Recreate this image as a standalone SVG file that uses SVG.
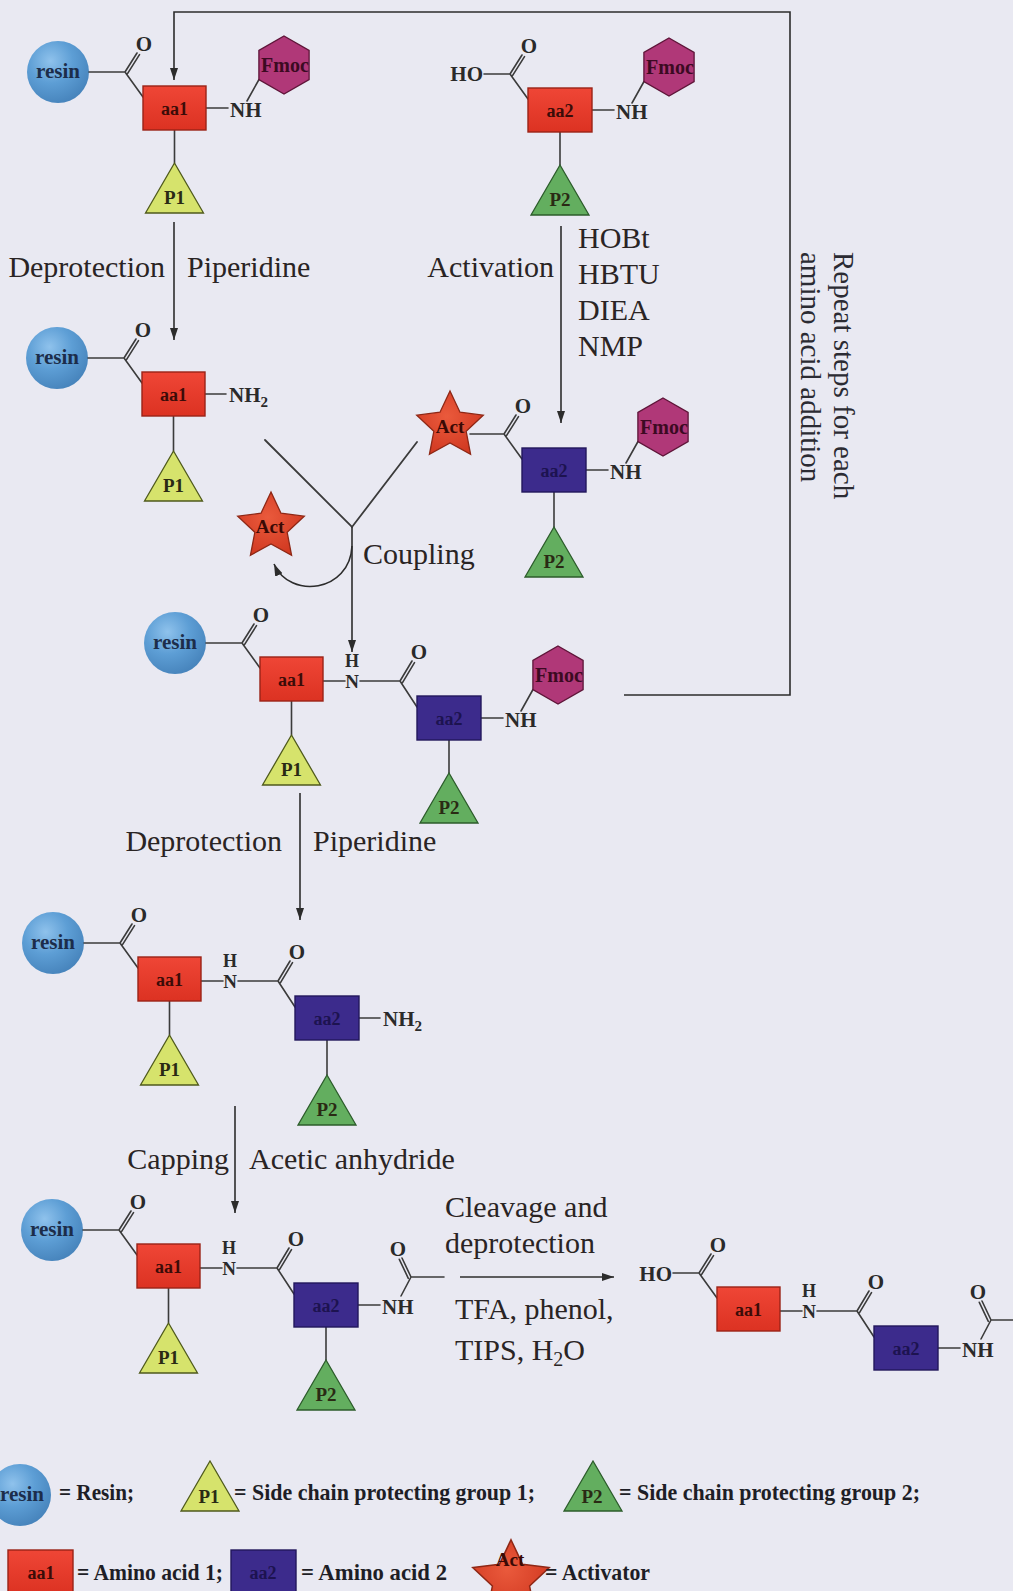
<svg xmlns="http://www.w3.org/2000/svg" width="1013" height="1591" viewBox="0 0 1013 1591">
<defs>
<style>
.b{stroke:#3b3b3b;stroke-width:1.6;fill:none;stroke-linecap:round}
.ar{stroke:#2c2c2c;stroke-width:1.6;fill:none;marker-end:url(#ah)}
.ch{font-family:"Liberation Serif",serif;font-weight:bold;font-size:21px;fill:#2a2a2a}
.hh{font-family:"Liberation Serif",serif;font-weight:bold;font-size:18px;fill:#2a2a2a;text-anchor:middle}
.hn{font-family:"Liberation Serif",serif;font-weight:bold;font-size:19px;fill:#2a2a2a;text-anchor:middle}
.bx{font-family:"Liberation Serif",serif;font-weight:bold;font-size:18px;text-anchor:middle;fill:#3b0c08}
.bp{font-family:"Liberation Serif",serif;font-weight:bold;font-size:18px;text-anchor:middle;fill:#1d1350}
.pt{font-family:"Liberation Serif",serif;font-weight:bold;font-size:19px;text-anchor:middle;fill:#2a2a14}
.fmt{font-family:"Liberation Serif",serif;font-weight:bold;font-size:20px;text-anchor:middle;fill:#3c0a22}
.act{font-family:"Liberation Serif",serif;font-weight:bold;font-size:19px;text-anchor:middle;fill:#3a0a05}
.rs{font-family:"Liberation Serif",serif;font-weight:bold;font-size:21px;fill:#1c2d4a;text-anchor:middle}
.lb{font-family:"Liberation Serif",serif;font-size:30px;fill:#2a2424}
.rp{font-family:"Liberation Serif",serif;font-size:29px;fill:#2b2b33}
.lg{font-family:"Liberation Serif",serif;font-weight:bold;font-size:23px;fill:#1e1e26}
.red{fill:url(#gRed);stroke:#9a2318;stroke-width:1.4}
.pur{fill:#3c2b8c;stroke:#22175c;stroke-width:1.4}
.p1{fill:#d6e36c;stroke:#4f5a1c;stroke-width:1.3}
.p2{fill:#63ae5f;stroke:#2c5c2b;stroke-width:1.3}
.fm{fill:#b03878;stroke:#5e1438;stroke-width:1.3}
.st{fill:url(#gStar);stroke:#8e2715;stroke-width:1.3}
</style>
<radialGradient id="gRes" cx="0.38" cy="0.32" r="0.72">
<stop offset="0" stop-color="#8fc2ec"/>
<stop offset="0.5" stop-color="#5d9ed5"/>
<stop offset="1" stop-color="#4683bb"/>
</radialGradient>
<linearGradient id="gRed" x1="0" y1="0" x2="0" y2="1">
<stop offset="0" stop-color="#ef4636"/>
<stop offset="1" stop-color="#dc3222"/>
</linearGradient>
<radialGradient id="gStar" cx="0.45" cy="0.4" r="0.6">
<stop offset="0" stop-color="#ea5a3c"/>
<stop offset="1" stop-color="#d23a22"/>
</radialGradient>
<marker id="ah" viewBox="0 0 12 8" refX="12" refY="4" markerWidth="12" markerHeight="8" orient="auto" markerUnits="userSpaceOnUse">
<path d="M0,0 L12,4 L0,8 z" fill="#2c2c2c"/>
</marker>
<polygon id="hex" points="0,-29 25.1,-14.5 25.1,14.5 0,29 -25.1,14.5 -25.1,-14.5"/>
<path id="star" d="M0,-35 L9.99,-13.75 L33.29,-10.82 L16.17,5.25 L20.57,28.32 L0,17 L-20.57,28.32 L-16.17,5.25 L-33.29,-10.82 L-9.99,-13.75 Z"/>
<path id="tri" d="M0,0 L29,50 L-29,50 Z"/>
</defs>
<rect x="0" y="0" width="1013" height="1591" fill="#e9e9f2"/>

<!-- connectors -->
<g id="connectors">
<path class="b" style="stroke-width:1.8" d="M265,440L352,527L417,442"/>
<path class="ar" d="M352,527V652"/>
<path class="ar" d="M352,546C350,592 290,600 274,564"/>
<path class="ar" d="M174,222V340"/>
<path class="ar" d="M561,226V423"/>
<path class="ar" d="M300,793V920"/>
<path class="ar" d="M235,1106V1213"/>
<path class="ar" d="M460,1277H614"/>
<path class="ar" d="M624,695H790V12H174V80"/>
</g>

<!-- S1: resin-aa1-NH-Fmoc -->
<g id="m1" transform="translate(143,86)">
<circle cx="-85" cy="-14" r="31" fill="url(#gRes)"/>
<text class="rs" x="-85" y="-8">resin</text>
<path class="b" d="M-54,-14H-18M-18,-14L-6,-33M-15.5,-12.4L-3.5,-31.4M-18,-14L0,11M63,22H85M104,15L116,-6.5M31.5,44V77"/>
<text class="ch" x="1" y="-35" text-anchor="middle">O</text>
<rect class="red" x="0" y="0" width="63" height="44"/>
<text class="bx" x="31.5" y="29">aa1</text>
<text class="ch" x="87" y="31">NH</text>
<use href="#hex" class="fm" x="141" y="-21"/>
<text class="fmt" x="142" y="-14">Fmoc</text>
<use href="#tri" class="p1" x="31.5" y="77"/>
<text class="pt" x="31.5" y="118">P1</text>
</g>

<!-- S2: HO-aa2-NH-Fmoc -->
<g id="m2" transform="translate(528,88)">
<text class="ch" x="-45" y="-7" text-anchor="end">HO</text>
<path class="b" d="M-44,-14H-18M-18,-14L-6,-33M-15.5,-12.4L-3.5,-31.4M-18,-14L0,11M64,22H86M104,15L116,-6.5M32,44V77"/>
<text class="ch" x="1" y="-35" text-anchor="middle">O</text>
<rect class="red" x="0" y="0" width="64" height="44"/>
<text class="bx" x="32" y="29">aa2</text>
<text class="ch" x="88" y="31">NH</text>
<use href="#hex" class="fm" x="141" y="-21"/>
<text class="fmt" x="142" y="-14">Fmoc</text>
<use href="#tri" class="p2" x="32" y="77"/>
<text class="pt" x="32" y="118">P2</text>
</g>

<!-- S3: resin-aa1-NH2 -->
<g id="m3" transform="translate(142,372)">
<circle cx="-85" cy="-14" r="31" fill="url(#gRes)"/>
<text class="rs" x="-85" y="-8">resin</text>
<path class="b" d="M-54,-14H-18M-18,-14L-6,-33M-15.5,-12.4L-3.5,-31.4M-18,-14L0,11M63,22H84M31.5,44V79"/>
<text class="ch" x="1" y="-35" text-anchor="middle">O</text>
<rect class="red" x="0" y="0" width="63" height="44"/>
<text class="bx" x="31.5" y="29">aa1</text>
<text class="ch" x="87" y="30">NH<tspan font-size="15" dy="5">2</tspan></text>
<use href="#tri" class="p1" x="31.5" y="79"/>
<text class="pt" x="31.5" y="120">P1</text>
</g>

<!-- S4: Act-aa2-NH-Fmoc -->
<g id="m4" transform="translate(522,448)">
<path class="b" d="M-52,-14H-18M-18,-14L-6,-33M-15.5,-12.4L-3.5,-31.4M-18,-14L0,11M64,22H86M104,15L116,-6.5M32,44V79"/>
<use href="#star" class="st" x="-72" y="-22"/>
<text class="act" x="-72" y="-15">Act</text>
<text class="ch" x="1" y="-35" text-anchor="middle">O</text>
<rect class="pur" x="0" y="0" width="64" height="44"/>
<text class="bp" x="32" y="29">aa2</text>
<text class="ch" x="88" y="31">NH</text>
<use href="#hex" class="fm" x="141" y="-21"/>
<text class="fmt" x="142" y="-14">Fmoc</text>
<use href="#tri" class="p2" x="32" y="79"/>
<text class="pt" x="32" y="120">P2</text>
</g>

<!-- released activator -->
<g id="act-released">
<use href="#star" class="st" x="271" y="527"/>
<text class="act" x="270" y="533">Act</text>
</g>

<!-- S5: resin-aa1-aa2-NH-Fmoc -->
<g id="m5" transform="translate(260,657)">
<circle cx="-85" cy="-14" r="31" fill="url(#gRes)"/>
<text class="rs" x="-85" y="-8">resin</text>
<path class="b" d="M-54,-14H-18M-18,-14L-6,-33M-15.5,-12.4L-3.5,-31.4M-18,-14L0,11M63,24H85M100,24H140M140,24L152,4M142.5,25.6L154.5,5.6M140,24L157,50M31.5,44V78"/>
<text class="ch" x="1" y="-35" text-anchor="middle">O</text>
<text class="ch" x="159" y="2" text-anchor="middle">O</text>
<rect class="red" x="0" y="0" width="63" height="44"/>
<text class="bx" x="31.5" y="29">aa1</text>
<text class="hh" x="92" y="10">H</text>
<text class="hn" x="92" y="31">N</text>
<use href="#tri" class="p1" x="31.5" y="78"/>
<text class="pt" x="31.5" y="119">P1</text>
<g transform="translate(157,39)">
<path class="b" d="M64,22H86M104,15L116,-6.5M32,44V77"/>
<rect class="pur" x="0" y="0" width="64" height="44"/>
<text class="bp" x="32" y="29">aa2</text>
<text class="ch" x="88" y="31">NH</text>
<use href="#hex" class="fm" x="141" y="-21"/>
<text class="fmt" x="142" y="-14">Fmoc</text>
<use href="#tri" class="p2" x="32" y="77"/>
<text class="pt" x="32" y="118">P2</text>
</g>
</g>

<!-- S6: resin-aa1-aa2-NH2 -->
<g id="m6" transform="translate(138,957)">
<circle cx="-85" cy="-14" r="31" fill="url(#gRes)"/>
<text class="rs" x="-85" y="-8">resin</text>
<path class="b" d="M-54,-14H-18M-18,-14L-6,-33M-15.5,-12.4L-3.5,-31.4M-18,-14L0,11M63,24H85M100,24H140M140,24L152,4M142.5,25.6L154.5,5.6M140,24L157,50M31.5,44V78"/>
<text class="ch" x="1" y="-35" text-anchor="middle">O</text>
<text class="ch" x="159" y="2" text-anchor="middle">O</text>
<rect class="red" x="0" y="0" width="63" height="44"/>
<text class="bx" x="31.5" y="29">aa1</text>
<text class="hh" x="92" y="10">H</text>
<text class="hn" x="92" y="31">N</text>
<use href="#tri" class="p1" x="31.5" y="78"/>
<text class="pt" x="31.5" y="119">P1</text>
<g transform="translate(157,39)">
<path class="b" d="M64,22H85M32,44V79"/>
<rect class="pur" x="0" y="0" width="64" height="44"/>
<text class="bp" x="32" y="29">aa2</text>
<text class="ch" x="88" y="30">NH<tspan font-size="15" dy="5">2</tspan></text>
<use href="#tri" class="p2" x="32" y="79"/>
<text class="pt" x="32" y="120">P2</text>
</g>
</g>

<!-- S7: resin-aa1-aa2-NH-acetyl -->
<g id="m7" transform="translate(137,1244)">
<circle cx="-85" cy="-14" r="31" fill="url(#gRes)"/>
<text class="rs" x="-85" y="-8">resin</text>
<path class="b" d="M-54,-14H-18M-18,-14L-6,-33M-15.5,-12.4L-3.5,-31.4M-18,-14L0,11M63,24H85M100,24H140M140,24L152,4M142.5,25.6L154.5,5.6M140,24L157,50M31.5,44V79"/>
<text class="ch" x="1" y="-35" text-anchor="middle">O</text>
<text class="ch" x="159" y="2" text-anchor="middle">O</text>
<rect class="red" x="0" y="0" width="63" height="44"/>
<text class="bx" x="31.5" y="29">aa1</text>
<text class="hh" x="92" y="10">H</text>
<text class="hn" x="92" y="31">N</text>
<use href="#tri" class="p1" x="31.5" y="79"/>
<text class="pt" x="31.5" y="120">P1</text>
<g transform="translate(157,39)">
<path class="b" d="M64,22H86M107,13L117,-6M117,-6L108,-25M114.3,-4.7L105.3,-23.7M117,-6H150M32,44V77"/>
<rect class="pur" x="0" y="0" width="64" height="44"/>
<text class="bp" x="32" y="29">aa2</text>
<text class="ch" x="88" y="31">NH</text>
<text class="ch" x="104" y="-27" text-anchor="middle">O</text>
<use href="#tri" class="p2" x="32" y="77"/>
<text class="pt" x="32" y="118">P2</text>
</g>
</g>

<!-- S8: final peptide -->
<g id="m8" transform="translate(717,1287)">
<text class="ch" x="-45" y="-6" text-anchor="end">HO</text>
<path class="b" d="M-44,-14H-18M-18,-14L-6,-33M-15.5,-12.4L-3.5,-31.4M-18,-14L0,11M63,24H85M100,24H140M140,24L152,4M142.5,25.6L154.5,5.6M140,24L157,50"/>
<text class="ch" x="1" y="-35" text-anchor="middle">O</text>
<text class="ch" x="159" y="2" text-anchor="middle">O</text>
<rect class="red" x="0" y="0" width="63" height="44"/>
<text class="bx" x="31.5" y="29">aa1</text>
<text class="hh" x="92" y="10">H</text>
<text class="hn" x="92" y="31">N</text>
<g transform="translate(157,39)">
<path class="b" d="M64,22H86M107,13L117,-6M117,-6L108,-25M114.3,-4.7L105.3,-23.7M117,-6H160"/>
<rect class="pur" x="0" y="0" width="64" height="44"/>
<text class="bp" x="32" y="29">aa2</text>
<text class="ch" x="88" y="31">NH</text>
<text class="ch" x="104" y="-27" text-anchor="middle">O</text>
</g>
</g>

<!-- step labels -->
<g id="labels">
<text class="lb" x="165" y="277" text-anchor="end">Deprotection</text>
<text class="lb" x="187" y="277">Piperidine</text>
<text class="lb" x="554" y="277" text-anchor="end">Activation</text>
<text class="lb" x="578" y="248">HOBt</text>
<text class="lb" x="578" y="284">HBTU</text>
<text class="lb" x="578" y="320">DIEA</text>
<text class="lb" x="578" y="356">NMP</text>
<text class="lb" x="363" y="564">Coupling</text>
<text class="lb" x="282" y="851" text-anchor="end">Deprotection</text>
<text class="lb" x="313" y="851">Piperidine</text>
<text class="lb" x="229" y="1169" text-anchor="end">Capping</text>
<text class="lb" x="249" y="1169">Acetic anhydride</text>
<text class="lb" x="445" y="1217">Cleavage and</text>
<text class="lb" x="445" y="1253">deprotection</text>
<text class="lb" x="455" y="1319">TFA, phenol,</text>
<text class="lb" x="455" y="1360">TIPS, H<tspan font-size="20" dy="6">2</tspan><tspan dy="-6">O</tspan></text>
<text class="rp" transform="translate(834,252) rotate(90)">Repeat steps for each</text>
<text class="rp" transform="translate(801,252) rotate(90)">amino acid addition</text>
</g>

<!-- legend -->
<g id="legend">
<circle cx="20" cy="1495" r="31" fill="url(#gRes)"/>
<text class="rs" x="22" y="1501">resin</text>
<text class="lg" x="59" y="1500" textLength="75" lengthAdjust="spacingAndGlyphs">= Resin;</text>
<use href="#tri" class="p1" x="210" y="1461"/>
<text class="pt" x="209" y="1503">P1</text>
<text class="lg" x="234" y="1500" textLength="301" lengthAdjust="spacingAndGlyphs">= Side chain protecting group 1;</text>
<use href="#tri" class="p2" x="593" y="1461"/>
<text class="pt" x="592" y="1503">P2</text>
<text class="lg" x="619" y="1500" textLength="301" lengthAdjust="spacingAndGlyphs">= Side chain protecting group 2;</text>
<rect class="red" x="8" y="1550" width="65" height="44"/>
<text class="bx" x="41" y="1579">aa1</text>
<text class="lg" x="77" y="1580" textLength="146" lengthAdjust="spacingAndGlyphs">= Amino acid 1;</text>
<rect class="pur" x="231" y="1550" width="65" height="44"/>
<text class="bp" x="263" y="1579">aa2</text>
<text class="lg" x="301" y="1580" textLength="146" lengthAdjust="spacingAndGlyphs">= Amino acid 2</text>
<use href="#star" class="st" transform="translate(511,1580) scale(1.15)"/>
<text class="act" x="510" y="1566">Act</text>
<text class="lg" x="545" y="1580" textLength="105" lengthAdjust="spacingAndGlyphs">= Activator</text>
</g>
</svg>
